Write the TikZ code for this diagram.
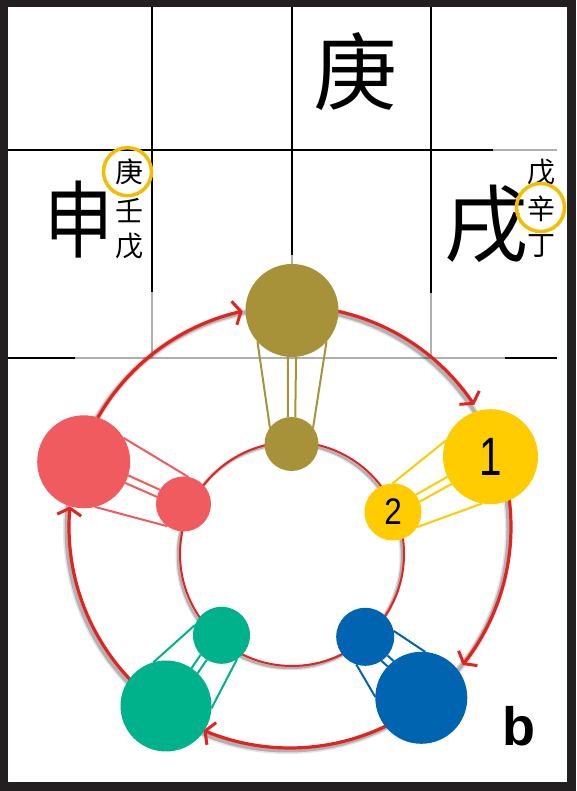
\documentclass[tikz,border=0pt]{standalone}
\usepackage{fontspec}
\usepackage{graphicx}
\setmainfont{Liberation Sans}
\newfontfamily\cjk{Noto Sans CJK SC}
\usetikzlibrary{arrows.meta,calc}
\pgfdeclarelayer{bg}\pgfdeclarelayer{mid}\pgfsetlayers{bg,mid,main}
\definecolor{frameC}{RGB}{35,31,32}
\definecolor{gridG}{RGB}{175,175,175}
\definecolor{ringR}{RGB}{226,35,32}
\definecolor{markY}{RGB}{243,190,0}
\definecolor{brownC}{RGB}{168,146,57}
\definecolor{yellowC}{RGB}{254,204,0}
\definecolor{blueC}{RGB}{0,100,176}
\definecolor{greenC}{RGB}{0,178,140}
\definecolor{salmonC}{RGB}{239,91,94}
\tikzset{
  gridk/.style={line width=1.5pt, black},
  gridg/.style={line width=1.2pt, gridG},
  disc/.style={circle, inner sep=0pt, outer sep=0pt, minimum size=#1},
  mark ring/.style={circle, draw=markY, line width=3.5pt, inner sep=0pt, minimum size=48pt},
  bigchar/.style={font=\cjk\fontsize{84}{84}\selectfont, inner sep=0pt},
  smallchar/.style={font=\cjk\fontsize{28}{28}\selectfont, inner sep=0pt},
  ring/.style={ringR, line width=3.2pt},
  barb/.style={ringR, line width=3pt, line join=miter},
  shade ring/.style={black, opacity=0.22, line width=#1},
  tether/.style={#1, line width=2pt},
}
% #1 big node, #2 small node, #3 axis angle, #4 alpha, #5 beta, #6 colour
\newcommand\balloonlines[6]{%
  \pgfmathtruncatemacro\bA{#3+#4}%
  \pgfmathtruncatemacro\bB{#3-#4}%
  \pgfmathtruncatemacro\sA{#3+180-#5}%
  \pgfmathtruncatemacro\sB{#3+180+#5}%
  \pgfmathtruncatemacro\iA{#3+5}%
  \pgfmathtruncatemacro\iB{#3-5}%
  \pgfmathtruncatemacro\jA{#3+180-8}%
  \pgfmathtruncatemacro\jB{#3+180+8}%
  \draw[tether=#6] (#1.\bA) -- (#2.\sA);
  \draw[tether=#6] (#1.\bB) -- (#2.\sB);
  \draw[tether=#6] (#1.\iA) -- (#2.\jA);
  \draw[tether=#6] (#1.\iB) -- (#2.\jB);
}
% clockwise ring arc from angle #1 to angle #2 with an open arrowhead at its end
\newcommand\ringarc[2]{%
  \draw[ring] ([shift={(#1:221)}]C) arc[start angle=#1, end angle=#2, radius=221];
  \coordinate (tip) at ([shift={(#2:221)}]C);
  \pgfmathsetmacro\backang{#2+90}%
  \pgfmathsetmacro\outang{#2}%
  \pgfmathsetmacro\inang{#2+180}%
  \draw[barb] ($(tip)+(\backang:7)+(\outang:12)$) -- (tip) -- ($(tip)+(\backang:7)+(\inang:12)$);
}
\begin{document}
\begin{tikzpicture}[x=1pt,y=1pt]
\useasboundingbox (0,0) rectangle (576,791);
\begin{pgfonlayer}{bg}
  \fill[frameC] (0,0) rectangle (576,791);
  \fill[white] (8,9) rectangle (566.5,784);
  % grid
  \draw[gridk] (152,784) -- (152,499);
  \draw[gridg] (152,499) -- (152,432);
  \draw[gridk] (292,784) -- (292,536);
  \draw[gridg] (292,536) -- (292,432);
  \draw[gridk] (431,784) -- (431,498);
  \draw[gridg] (431,498) -- (431,432);
  \draw[gridk] (8,641) -- (493,641);
  \draw[gridg] (493,641) -- (557,641);
  \draw[gridk] (8,433) -- (75,433);
  \draw[gridg] (75,433) -- (505,433);
  \draw[gridk] (505,433) -- (557,433);
  % rings
  \coordinate (C) at (290,264);
  \coordinate (Ci) at (292,237);
  \draw[shade ring=7pt, opacity=0.10] ([shift={(-2.5,-2.5)}]C) circle[radius=221];
  \draw[shade ring=4pt] ([shift={(-2.5,-2.5)}]C) circle[radius=221];
  \draw[shade ring=5pt, opacity=0.10] ([shift={(-2,-2)}]Ci) circle[radius=112];
  \draw[shade ring=2.5pt] ([shift={(-2,-2)}]Ci) circle[radius=112];
  \draw[ringR, line width=2pt] (Ci) circle[radius=112];
  \ringarc{89.5}{34}
  \ringarc{19.3}{-38.2}
  \ringarc{-52.4}{-112.6}
  \ringarc{-124.7}{-184.9}
  \ringarc{162.4}{102.8}
\end{pgfonlayer}

% characters
\node[bigchar] (geng) at (355,719) {庚};
\node[bigchar] (shen) at (79,571) {\scalebox{0.82}[1]{申}};
\node[bigchar] (xu) at (486,567) {戌};
\node[smallchar] (sl1) at (129,619) {庚};
\node[smallchar] (sl2) at (129,580) {壬};
\node[smallchar] (sl3) at (129,545) {戊};
\node[smallchar] (sr1) at (541,619) {戊};
\node[smallchar] (sr2) at (541,582) {辛};
\node[smallchar] (sr3) at (541,545) {丁};
\node[mark ring] (ml) at (127.5,619.3) {};
\node[mark ring] (mr) at (540.5,583.5) {};

% discs
\node[disc=93pt, fill=brownC] (brB) at (292,480.5) {};
\node[disc=54pt, fill=brownC] (brS) at (291.5,347) {};
\node[disc=95pt, fill=yellowC, font=\fontsize{54}{54}\selectfont] (yeB) at (490.5,334.3) {\scalebox{0.75}[1]{1}};
\node[disc=57pt, fill=yellowC, font=\fontsize{37}{37}\selectfont] (yeS) at (393,279) {\scalebox{0.85}[1]{2}};
\node[disc=92pt, fill=blueC] (blB) at (421.3,93.2) {};
\node[disc=58pt, fill=blueC] (blS) at (365.2,154.2) {};
\node[disc=91pt, fill=greenC] (grB) at (166,85) {};
\node[disc=57pt, fill=greenC] (grS) at (221.5,155.7) {};
\node[disc=93pt, fill=salmonC] (saB) at (83.7,329.2) {};
\node[disc=55pt, fill=salmonC] (saS) at (183.5,287) {};

\begin{pgfonlayer}{mid}
  \balloonlines{brB}{brS}{-90}{48}{53}{brownC}
  \balloonlines{yeB}{yeS}{-150.4}{50}{62}{yellowC}
  \balloonlines{blB}{blS}{132.6}{47}{60}{blueC}
  \balloonlines{grB}{grS}{51.9}{55}{72}{greenC}
  \balloonlines{saB}{saS}{-22.9}{54}{77}{salmonC}
\end{pgfonlayer}

\node[font=\bfseries\fontsize{54}{54}\selectfont, inner sep=0pt, anchor=base] (lab) at (518.5,45) {b};
\end{tikzpicture}
\end{document}
